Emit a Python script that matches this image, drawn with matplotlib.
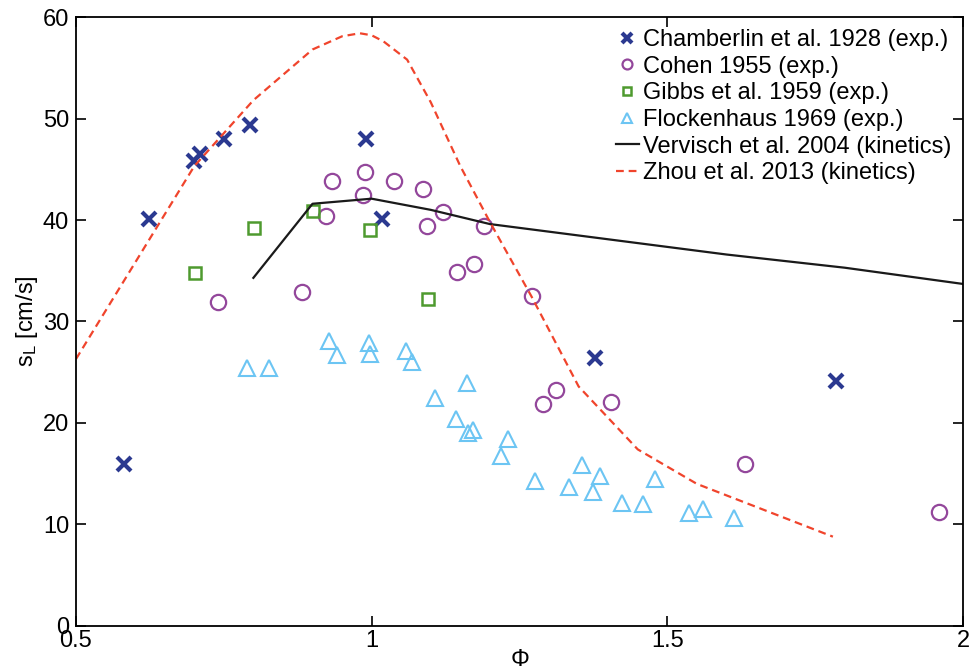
import numpy as np
import matplotlib
matplotlib.use("Agg")
import matplotlib.pyplot as plt

plt.rcParams['font.family'] = ['Liberation Sans', 'DejaVu Sans']
plt.rcParams['mathtext.fontset'] = 'custom'
plt.rcParams['mathtext.rm'] = 'Liberation Sans'

# Chamberlin et al. 1928 (exp.)
cham_phi = [0.582, 0.623, 0.699, 0.709, 0.751, 0.795, 0.990, 1.017, 1.377, 1.785]
cham_sl = [16.0, 40.1, 45.8, 46.5, 48.0, 49.4, 48.0, 40.1, 26.4, 24.1]

# Cohen 1955 (exp.)
cohen_phi = [0.740, 0.882, 0.923, 0.933, 0.986, 0.988, 1.038, 1.086, 1.093, 1.121,
             1.144, 1.173, 1.190, 1.272, 1.290, 1.312, 1.404, 1.632, 1.960]
cohen_sl = [31.95, 32.9, 40.4, 43.8, 42.5, 44.7, 43.8, 43.05, 39.4, 40.8,
            34.85, 35.7, 39.4, 32.5, 21.9, 23.3, 22.1, 16.0, 11.2]

# Gibbs et al. 1959 (exp.)
gibbs_phi = [0.702, 0.801, 0.901, 0.998, 1.095]
gibbs_sl = [34.8, 39.2, 40.9, 39.05, 32.2]

# Flockenhaus 1969 (exp.)
flock_phi = [0.790, 0.826, 0.928, 0.941, 0.996, 0.998, 1.058, 1.069, 1.107, 1.142,
             1.162, 1.163, 1.171, 1.218, 1.231, 1.277, 1.333, 1.356, 1.375, 1.386,
             1.424, 1.459, 1.479, 1.536, 1.560, 1.613]
flock_sl = [25.45, 25.45, 28.1, 26.7, 27.85, 26.8, 27.1, 26.0, 22.5, 20.4,
            23.9, 19.05, 19.3, 16.7, 18.4, 14.25, 13.7, 15.9, 13.2, 14.8,
            12.1, 12.0, 14.5, 11.1, 11.5, 10.6]

# Vervisch et al. 2004 (kinetics)
verv_phi = [0.8, 0.9, 1.0, 1.1, 1.2, 1.4, 1.6, 1.8, 2.0]
verv_sl = [34.3, 41.6, 42.1, 41.0, 39.6, 38.1, 36.6, 35.3, 33.7]

# Zhou et al. 2013 (kinetics)
zhou_phi = [0.5, 0.6, 0.7, 0.8, 0.9, 0.95, 0.98, 1.0, 1.02, 1.06, 1.1, 1.15,
            1.2, 1.27, 1.35, 1.45, 1.55, 1.78]
zhou_sl = [26.3, 35.8, 45.3, 51.8, 56.8, 58.1, 58.4, 58.2, 57.6, 55.8, 51.6, 45.3,
           39.8, 32.5, 23.6, 17.4, 14.0, 8.8]

fig = plt.figure(figsize=(9.74, 6.70), dpi=100)
ax = fig.add_axes([0.078, 0.0657, 0.9107, 0.9089])

ax.plot(cham_phi, cham_sl, 'x', color='#2b3990', ms=10, mew=3,
        label='Chamberlin et al. 1928 (exp.)')
ax.plot(cohen_phi, cohen_sl, 'o', mfc='none', mec='#93479b', ms=11, mew=1.6,
        label='Cohen 1955 (exp.)')
ax.plot(gibbs_phi, gibbs_sl, 's', mfc='none', mec='#4e9a2f', ms=8.5, mew=1.8,
        label='Gibbs et al. 1959 (exp.)')
ax.plot(flock_phi, flock_sl, '^', mfc='none', mec='#6cc5f3', ms=11, mew=1.5,
        label='Flockenhaus 1969 (exp.)')
ax.plot(verv_phi, verv_sl, '-', color='#1a1a1a', lw=1.6,
        label='Vervisch et al. 2004 (kinetics)')
ax.plot(zhou_phi, zhou_sl, '--', color='#f0442c', lw=1.6, dashes=(3.5, 2.2),
        label='Zhou et al. 2013 (kinetics)')

ax.set_xlim(0.5, 2)
ax.set_ylim(0, 60)
ax.set_xticks([0.5, 1, 1.5, 2])
ax.set_xticklabels(['0.5', '1', '1.5', '2'])
ax.set_yticks(np.arange(0, 61, 10))
ax.tick_params(direction='in', length=7, width=1.2, top=True, right=True,
               labelsize=17, pad=3)
ax.tick_params(axis='y', pad=5)
for s in ax.spines.values():
    s.set_linewidth(1.3)

ax.set_xlabel(r'$\Phi$', fontsize=17, labelpad=-2)
ax.set_ylabel(r'$\mathregular{s_L}$ [cm/s]', fontsize=17, labelpad=2)

ax.legend(loc='upper right', frameon=False, fontsize=17, handlelength=1.0,
          handletextpad=0.15, labelspacing=0.2, markerscale=0.65,
          borderaxespad=0.2, borderpad=0.3)

fig.savefig('out.png', dpi=100)
